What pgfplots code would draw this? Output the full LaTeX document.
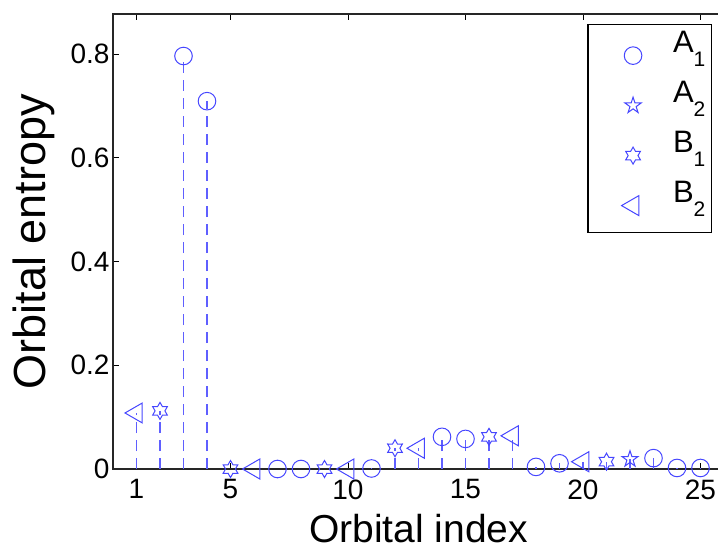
\documentclass[border=0pt]{standalone}
\usepackage{pgfplots}
\pgfplotsset{compat=1.18}
\usepackage{fontspec}
\setmainfont{Liberation Sans}
\usetikzlibrary{plotmarks}
\definecolor{mb}{RGB}{70,70,255}
\definecolor{sb}{RGB}{95,95,255}

\pgfdeclareplotmark{hexagram}{%
  \pgfpathmoveto{\pgfpointpolar{90}{\pgfplotmarksize}}%
  \pgfpathlineto{\pgfpointpolar{120}{0.577\pgfplotmarksize}}%
  \pgfpathlineto{\pgfpointpolar{150}{\pgfplotmarksize}}%
  \pgfpathlineto{\pgfpointpolar{180}{0.577\pgfplotmarksize}}%
  \pgfpathlineto{\pgfpointpolar{210}{\pgfplotmarksize}}%
  \pgfpathlineto{\pgfpointpolar{240}{0.577\pgfplotmarksize}}%
  \pgfpathlineto{\pgfpointpolar{270}{\pgfplotmarksize}}%
  \pgfpathlineto{\pgfpointpolar{300}{0.577\pgfplotmarksize}}%
  \pgfpathlineto{\pgfpointpolar{330}{\pgfplotmarksize}}%
  \pgfpathlineto{\pgfpointpolar{0}{0.577\pgfplotmarksize}}%
  \pgfpathlineto{\pgfpointpolar{30}{\pgfplotmarksize}}%
  \pgfpathlineto{\pgfpointpolar{60}{0.577\pgfplotmarksize}}%
  \pgfpathclose\pgfusepathqstroke}
\pgfdeclareplotmark{pentagram}{%
  \pgfpathmoveto{\pgfpointpolar{90}{\pgfplotmarksize}}%
  \pgfpathlineto{\pgfpointpolar{126}{0.382\pgfplotmarksize}}%
  \pgfpathlineto{\pgfpointpolar{162}{\pgfplotmarksize}}%
  \pgfpathlineto{\pgfpointpolar{198}{0.382\pgfplotmarksize}}%
  \pgfpathlineto{\pgfpointpolar{234}{\pgfplotmarksize}}%
  \pgfpathlineto{\pgfpointpolar{270}{0.382\pgfplotmarksize}}%
  \pgfpathlineto{\pgfpointpolar{306}{\pgfplotmarksize}}%
  \pgfpathlineto{\pgfpointpolar{342}{0.382\pgfplotmarksize}}%
  \pgfpathlineto{\pgfpointpolar{18}{\pgfplotmarksize}}%
  \pgfpathlineto{\pgfpointpolar{54}{0.382\pgfplotmarksize}}%
  \pgfpathclose\pgfusepathqstroke}

\begin{document}
\begin{tikzpicture}
\useasboundingbox (0,0) rectangle (718pt,547pt);
\begin{axis}[
  at={(113pt,78pt)}, anchor=south west,
  scale only axis, width=611pt, height=455pt,
  xmin=0, xmax=26, ymin=0, ymax=0.877,
  xtick={1,5,10,15,20,25}, xticklabels={1,5,10,15,20,25},
  ytick={0,0.2,0.4,0.6,0.8}, yticklabels={0,0.2,0.4,0.6,0.8},
  tick align=inside, major tick length=6pt,
  tick style={black, line width=0.8pt},
  axis line style={line width=1.2pt, black!85},
  ticklabel style={font=\fontsize{28}{30}\selectfont},
  xticklabel style={yshift=-7pt},
  xlabel={Orbital index}, ylabel={Orbital entropy},
  xlabel style={font=\fontsize{39}{40}\selectfont, at={(axis description cs:0.5,0)}, anchor=base, yshift=-73pt},
  ylabel style={font=\fontsize{45}{46}\selectfont, at={(axis description cs:0,0.5)}, anchor=base, rotate=0, yshift=67pt},
  clip=false,
  legend style={at={(0.9804,0.978)}, anchor=north east, draw=black, line width=1.2pt,
    inner xsep=4pt, inner ysep=4pt, font=\fontsize{31}{32}\selectfont,
    row sep=0pt, column sep=0pt, cells={anchor=base west, inner sep=0pt}},
  legend image code/.code={\path[draw=none] (-41pt,-26pt) rectangle (38pt,24pt); \draw[#1] plot coordinates {(0pt,-3pt)};},
]
\addplot[ycomb, draw=sb, color=sb, line width=1.9pt, dash pattern=on 11pt off 7pt, forget plot] coordinates {
(1,0.108)(2,0.112)(3,0.796)(4,0.709)(5,0)(6,0)(7,0)(8,0)(9,0)(10,0)(11,0.001)
(12,0.040)(13,0.040)(14,0.062)(15,0.058)(16,0.062)(17,0.064)(18,0.004)(19,0.011)
(20,0.014)(21,0.014)(22,0.019)(23,0.021)(24,0.002)(25,0.002)};
\addplot[only marks, mb, mark=o, mark size=8.8pt, mark options={line width=1pt, solid}] coordinates {
(3,0.796)(4,0.709)(7,0)(8,0)(11,0.001)(14,0.062)(15,0.058)(18,0.004)(19,0.011)(23,0.021)(24,0.002)(25,0.002)};
\addlegendentry{A\raisebox{-14pt}{\fontsize{21}{21}\selectfont 1}}
\addplot[only marks, mb, mark=pentagram, mark size=8.5pt, mark options={line width=1pt, solid}] coordinates {
(22,0.019)};
\addlegendentry{A\raisebox{-14pt}{\fontsize{21}{21}\selectfont 2}}
\addplot[only marks, mb, mark=hexagram, mark size=8.5pt, mark options={line width=1pt, solid}] coordinates {
(2,0.112)(5,0)(9,0)(12,0.040)(16,0.062)(21,0.014)};
\addlegendentry{B\raisebox{-14pt}{\fontsize{21}{21}\selectfont 1}}
\addplot[only marks, mb, mark=triangle, mark size=11.5pt, mark options={line width=1pt, solid, rotate=90}] coordinates {
(1,0.108)(6,0)(10,0)(13,0.040)(17,0.064)(20,0.014)};
\addlegendentry{B\raisebox{-14pt}{\fontsize{21}{21}\selectfont 2}}
\end{axis}
\end{tikzpicture}
\end{document}
